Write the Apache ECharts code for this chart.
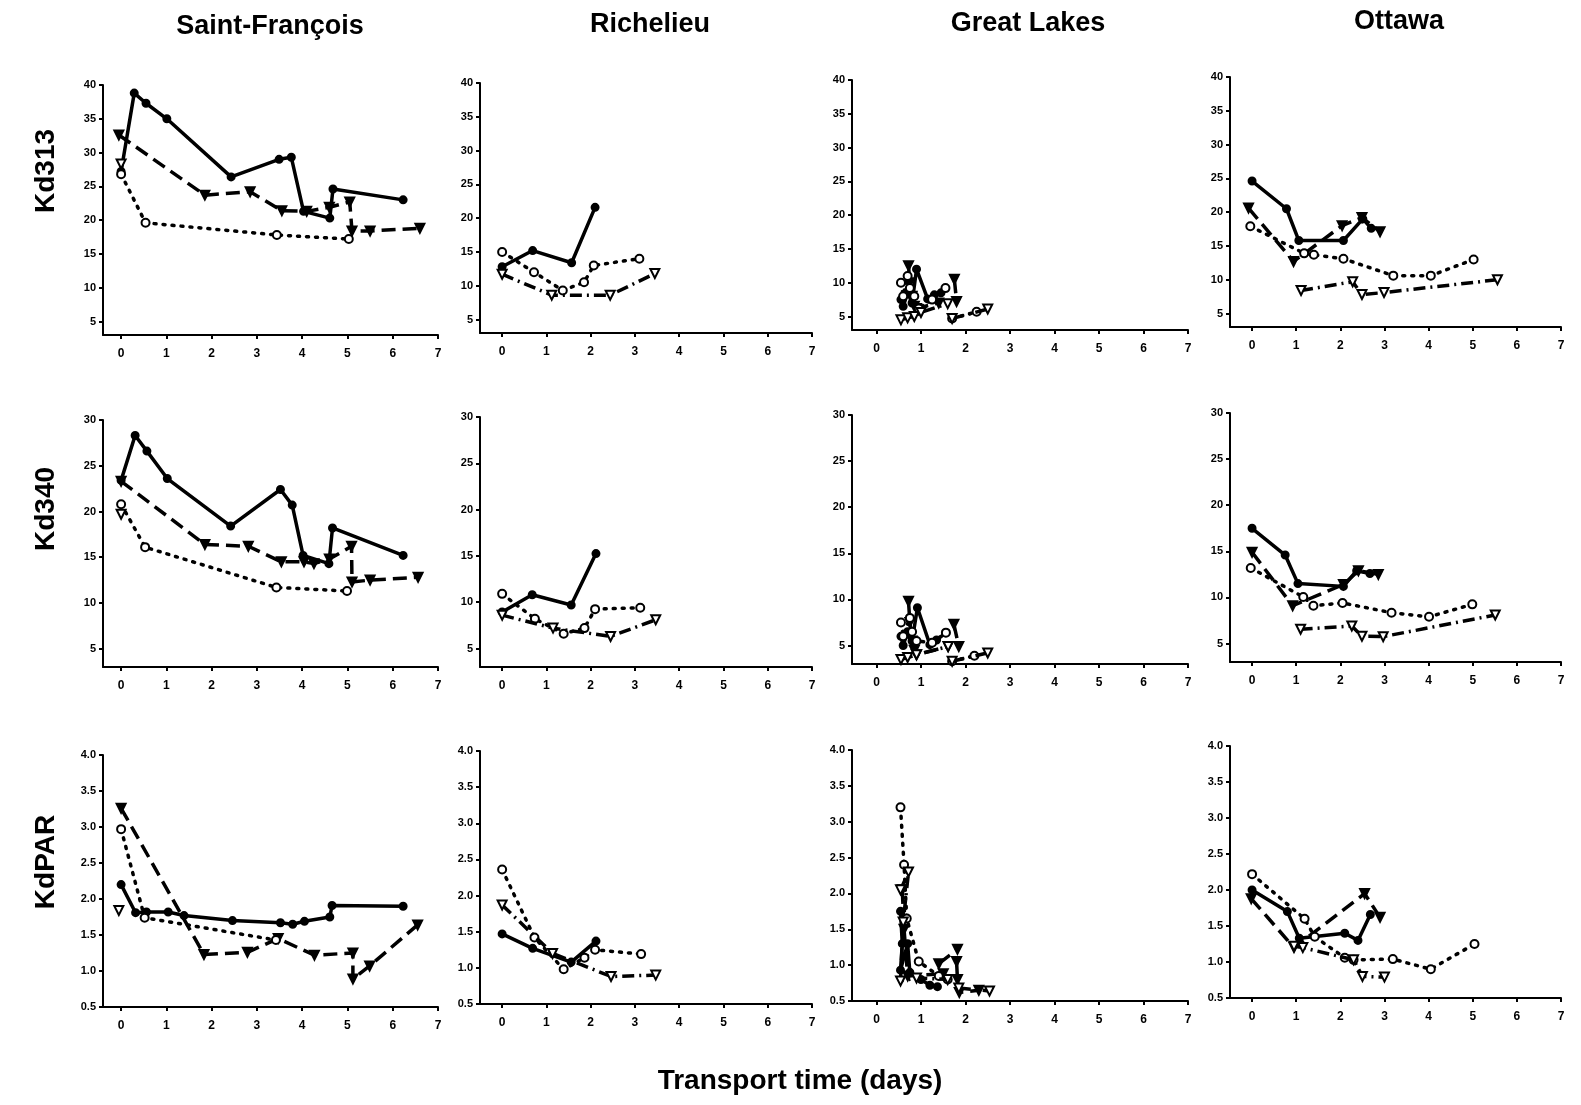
<!DOCTYPE html>
<html><head><meta charset="utf-8">
<script src="https://cdn.jsdelivr.net/npm/echarts@6/dist/echarts.min.js"></script>
<style>html,body{margin:0;padding:0;background:#fff}#c{width:1581px;height:1105px}</style>
</head><body><div id="c"></div>
<script>
// ---------- labels ----------
const COLUMNS = ['Saint-François', 'Richelieu', 'Great Lakes', 'Ottawa'];
const ROWS = ['Kd313', 'Kd340', 'KdPAR'];
const X_TITLE = 'Transport time (days)';
const X_TICKS = [0, 1, 2, 3, 4, 5, 6, 7];
const Y_TICKS_313 = [5, 10, 15, 20, 25, 30, 35, 40];
const Y_TICKS_340 = [5, 10, 15, 20, 25, 30];
const Y_TICKS_PAR = [0.5, 1.0, 1.5, 2.0, 2.5, 3.0, 3.5, 4.0];

// ---------- data: A = solid/filled circle, B = dashed/filled triangle,
// C = dotted/open circle, D = dash-dot/open triangle; null = line break ----------
// Saint-François Kd313
const sf313_A = [[0,27.2],[0.29,38.8],[0.55,37.3],[1.01,35.0],[2.43,26.4],[3.49,29.0],[3.76,29.3],[4.03,21.3],[4.61,20.3],[4.68,24.6],[6.23,23.0]];
const sf313_B = [[-0.05,32.6],[1.85,23.7],[2.85,24.2],[3.55,21.4],[4.1,21.3],[4.6,21.9],[5.05,22.7],[5.1,18.4],[5.5,18.4],[6.6,18.8]];
const sf313_C = [[0,26.8],[0.54,19.6],[3.44,17.8],[5.03,17.2]];
const sf313_D = [[0,28.3]];
// Richelieu Kd313
const ri313_A = [[0,12.8],[0.69,15.2],[1.57,13.4],[2.1,21.6]];
const ri313_B = [];
const ri313_C = [[0,15.0],[0.72,12.0],[1.37,9.3],[1.85,10.5],[2.07,13.0],[3.1,14.0]];
const ri313_D = [[0,11.7],[1.12,8.6],[2.44,8.6],[3.45,11.8]];
// Great Lakes Kd313
const gl313_A = [[0.55,7.5],[0.6,6.5],[0.7,8.5],[0.8,7.0],[0.9,12.0],[1.15,7.6],[1.3,8.2],[1.45,8.5]];
const gl313_B = [[0.72,12.5],[0.75,10.0],[0.8,8.0],[0.85,6.5],[0.9,6.2],[1.4,7.0],null,[1.75,10.5],[1.8,7.2]];
const gl313_C = [[0.55,10.0],[0.6,8.0],[0.7,11.0],[0.75,9.2],[0.85,8.0],[0.95,6.2],[1.25,7.5],[1.55,9.2],null,[1.7,4.7],[2.25,5.7]];
const gl313_D = [[0.55,4.5],[0.7,4.8],[0.85,5.0],[1.0,5.6],[1.6,6.9],null,[1.7,4.7],[2.5,6.1]];
// Ottawa Kd313
const ot313_A = [[0,24.6],[0.78,20.5],[1.06,15.8],[2.07,15.8],[2.51,19.0],[2.7,17.6]];
const ot313_B = [[-0.08,20.6],[0.94,12.7],[2.04,18.0],[2.49,19.2],[2.9,17.1]];
const ot313_C = [[-0.04,17.9],[1.18,13.9],[1.4,13.7],[2.07,13.1],[3.2,10.6],[4.05,10.6],[5.02,13.0]];
const ot313_D = [[1.11,8.4],[2.28,9.7],[2.49,7.8],[2.99,8.1],[5.56,10.0]];

// Saint-François Kd340
const sf340_A = [[0,23.4],[0.31,28.3],[0.57,26.6],[1.02,23.6],[2.42,18.4],[3.52,22.4],[3.78,20.7],[4.02,15.2],[4.59,14.3],[4.67,18.2],[6.23,15.2]];
const sf340_B = [[0,23.3],[1.85,16.4],[2.81,16.2],[3.54,14.5],[4.04,14.5],[4.26,14.3],[4.6,14.8],[5.09,16.2],[5.1,12.3],[5.5,12.5],[6.56,12.8]];
const sf340_C = [[0,20.8],[0.53,16.1],[3.43,11.7],[4.99,11.3]];
const sf340_D = [[0,19.7]];
// Richelieu Kd340
const ri340_A = [[0,8.95],[0.68,10.8],[1.56,9.7],[2.12,15.25]];
const ri340_B = [];
const ri340_C = [[0,10.9],[0.74,8.2],[1.39,6.6],[1.86,7.2],[2.1,9.25],[3.12,9.4]];
const ri340_D = [[0,8.6],[1.15,7.2],[2.45,6.3],[3.47,8.1]];
// Great Lakes Kd340
const gl340_A = [[0.55,6.0],[0.6,5.0],[0.7,6.5],[0.8,5.5],[0.92,9.1],[1.2,5.1],[1.35,5.6],[1.56,6.4]];
const gl340_B = [[0.72,9.8],[0.75,7.5],[0.8,5.5],[0.85,4.5],[0.9,4.0],[1.61,4.9],null,[1.74,7.3],[1.85,4.9]];
const gl340_C = [[0.55,7.5],[0.6,6.0],[0.75,8.0],[0.8,6.5],[0.9,5.5],[1.25,5.3],[1.56,6.4],null,[1.7,3.3],[2.2,3.9]];
const gl340_D = [[0.55,3.5],[0.7,3.7],[0.9,4.0],[1.61,4.9],null,[1.7,3.3],[2.5,4.2]];
// Ottawa Kd340
const ot340_A = [[0,17.5],[0.75,14.6],[1.04,11.5],[2.07,11.2],[2.37,12.9],[2.67,12.6]];
const ot340_B = [[0,14.9],[0.92,9.1],[2.07,11.4],[2.41,12.9],[2.86,12.5]];
const ot340_C = [[-0.03,13.2],[1.16,10.05],[1.39,9.1],[2.05,9.4],[3.16,8.35],[4.01,7.9],[4.99,9.25]];
const ot340_D = [[1.1,6.55],[2.26,6.9],[2.49,5.8],[2.97,5.75],[5.51,8.1]];

// Saint-François KdPAR
const sfPAR_A = [[0,2.2],[0.32,1.81],[0.56,1.82],[1.04,1.82],[1.39,1.77],[2.46,1.7],[3.52,1.67],[3.79,1.65],[4.05,1.69],[4.61,1.75],[4.66,1.91],[6.23,1.9]];
const sfPAR_B = [[0,3.26],[1.83,1.23],[2.79,1.26],[3.47,1.45],[4.27,1.22],[5.12,1.25],[5.12,0.89],[5.49,1.07],[6.55,1.64]];
const sfPAR_C = [[0,2.97],[0.52,1.74],[3.42,1.43]];
const sfPAR_D = [[-0.05,1.84]];
// Richelieu KdPAR
const riPAR_A = [[0,1.47],[0.69,1.27],[1.56,1.08],[2.12,1.37]];
const riPAR_B = [];
const riPAR_C = [[0,2.36],[0.73,1.42],[1.39,0.98],[1.86,1.14],[2.1,1.25],[3.14,1.19]];
const riPAR_D = [[0,1.87],[1.14,1.2],[2.46,0.88],[3.47,0.9]];
// Great Lakes KdPAR
const glPAR_A = [[0.54,1.75],[0.58,1.3],[0.54,0.93],[0.7,1.3],[0.75,0.9],[1.0,0.8],[1.2,0.72],[1.37,0.7]];
const glPAR_B = [[0.58,2.05],[0.62,1.5],[0.7,0.85],[1.5,0.88],null,[1.4,1.02],[1.82,1.22],null,[1.8,1.05],[1.82,0.8],[1.86,0.62],[2.3,0.65]];
const glPAR_C = [[0.54,3.2],[0.62,2.4],[0.68,1.65],[0.95,1.05],[1.4,0.85],[1.6,0.8]];
const glPAR_D = [[0.54,2.05],[0.72,2.3],[0.6,1.6],[0.54,0.78],[0.9,0.82],[1.6,0.8],null,[1.85,0.68],[2.54,0.64]];
// Ottawa KdPAR
const otPAR_A = [[0,2.0],[0.8,1.7],[1.07,1.33],[2.1,1.4],[2.4,1.3],[2.68,1.66]];
const otPAR_B = [[-0.02,1.88],[0.95,1.2],[2.55,1.95],[2.9,1.62]];
const otPAR_C = [[0,2.22],[1.19,1.6],[1.42,1.35],[2.1,1.06],[2.3,1.03],[3.19,1.04],[4.05,0.9],[5.04,1.25]];
const otPAR_D = [[0.95,1.22],[1.15,1.2],[2.3,1.03],[2.5,0.8],[3.0,0.79]];

const PANELS = [
  [[sf313_A,sf313_B,sf313_C,sf313_D],[ri313_A,ri313_B,ri313_C,ri313_D],[gl313_A,gl313_B,gl313_C,gl313_D],[ot313_A,ot313_B,ot313_C,ot313_D]],
  [[sf340_A,sf340_B,sf340_C,sf340_D],[ri340_A,ri340_B,ri340_C,ri340_D],[gl340_A,gl340_B,gl340_C,gl340_D],[ot340_A,ot340_B,ot340_C,ot340_D]],
  [[sfPAR_A,sfPAR_B,sfPAR_C,sfPAR_D],[riPAR_A,riPAR_B,riPAR_C,riPAR_D],[glPAR_A,glPAR_B,glPAR_C,glPAR_D],[otPAR_A,otPAR_B,otPAR_C,otPAR_D]]
];

// ---------- layout ----------
const COL_BOX = [[103,438],[480,812],[852,1188],[1230,1561]];
const COL_XMIN = [-0.4,-0.5,-0.55,-0.5];
const ROW_BOX = [
  [[85,335],[83,333],[80,330],[77,327]],
  [[420,667],[417,667],[415,664],[413,662]],
  [[755,1007],[751,1004],[750,1001],[746,998]]
];
const ROW_Y = [
  {min:3, max:40, ticks:Y_TICKS_313, fmt:v=>String(v)},
  {min:3, max:30, ticks:Y_TICKS_340, fmt:v=>String(v)},
  {min:0.5, max:4, ticks:Y_TICKS_PAR, fmt:v=>Number(v).toFixed(1)}
];
const FONT = '"Liberation Sans", Arial, sans-serif';

const STYLES = [
  {line:{type:'solid', width:3.5}, symbol:'circle', size:7, rotate:0},
  {line:{type:[14,7], width:3.5}, symbol:'triangle', size:9, rotate:180},
  {line:{type:[2,7], width:3.5, cap:'round'}, symbol:'emptyCircle', size:8, rotate:0},
  {line:{type:[12,5,2,5], width:3.5}, symbol:'emptyTriangle', size:9, rotate:180}
];

const grids = [], xAxes = [], yAxes = [], series = [];
for (let r = 0; r < 3; r++) {
  for (let c = 0; c < 4; c++) {
    const idx = r * 4 + c;
    const [t, b] = ROW_BOX[r][c];
    const [l, rt] = COL_BOX[c];
    grids.push({left:l, top:t, width:rt - l, height:b - t});
    xAxes.push({
      type:'value', gridIndex:idx, min:COL_XMIN[c], max:7,
      axisLine:{show:true, onZero:false, lineStyle:{color:'#000', width:2}},
      axisTick:{show:true, customValues:X_TICKS, length:4, lineStyle:{color:'#000', width:2}},
      axisLabel:{customValues:X_TICKS, color:'#000', fontWeight:'bold', fontSize:12, fontFamily:FONT, margin:13},
      splitLine:{show:false}
    });
    const ry = ROW_Y[r];
    yAxes.push({
      type:'value', gridIndex:idx, min:ry.min, max:ry.max,
      axisLine:{show:true, onZero:false, lineStyle:{color:'#000', width:2}},
      axisTick:{show:true, customValues:ry.ticks, length:4, lineStyle:{color:'#000', width:2}},
      axisLabel:{customValues:ry.ticks, formatter:ry.fmt, color:'#000', fontWeight:'bold', fontSize:11, fontFamily:FONT, margin:7},
      splitLine:{show:false}
    });
    PANELS[r][c].forEach((arr, s) => {
      if (!arr.length) return;
      const st = STYLES[s];
      series.push({
        type:'line', xAxisIndex:idx, yAxisIndex:idx,
        data: arr.map(p => p === null ? ['-','-'] : p),
        connectNulls:false,
        symbol:st.symbol, symbolSize:st.size, symbolRotate:st.rotate,
        showAllSymbol:true,
        lineStyle:Object.assign({color:'#000'}, st.line),
        itemStyle:{color:'#000', borderColor:'#000', borderWidth:2},
        emphasis:{disabled:true},
        z: 2 + s
      });
    });
  }
}

const graphics = [];
const TITLE_POS = [[270,27],[650,25],[1028,24],[1399,22]];
COLUMNS.forEach((name, i) => graphics.push({
  type:'text', x:TITLE_POS[i][0], y:TITLE_POS[i][1],
  style:{text:name, font:'bold 27px ' + FONT, fill:'#000', textAlign:'center', textVerticalAlign:'middle'}
}));
const ROW_POS = [[46,171],[46,509],[46,862]];
ROWS.forEach((name, i) => graphics.push({
  type:'text', x:ROW_POS[i][0], y:ROW_POS[i][1], rotation:Math.PI/2,
  style:{text:name, font:'bold 28px ' + FONT, fill:'#000', textAlign:'center', textVerticalAlign:'middle'}
}));
graphics.push({
  type:'text', x:800, y:1081,
  style:{text:X_TITLE, font:'bold 28px ' + FONT, fill:'#000', textAlign:'center', textVerticalAlign:'middle'}
});

const chart = echarts.init(document.getElementById('c'), null, {renderer:'canvas'});
chart.setOption({
  animation:false,
  backgroundColor:'#fff',
  grid:grids, xAxis:xAxes, yAxis:yAxes, series:series,
  graphic:graphics
});
</script></body></html>
